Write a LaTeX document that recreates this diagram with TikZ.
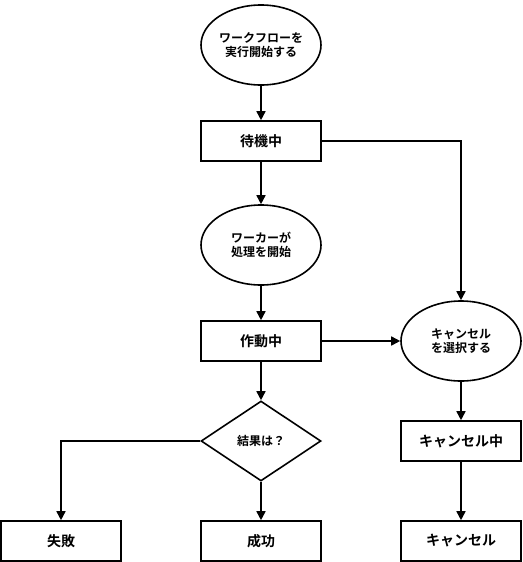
\documentclass[tikz,border=0pt]{standalone}
\usepackage{fontspec}
\setmainfont{Noto Sans CJK JP}[BoldFont={Noto Sans CJK JP Bold}]
\usetikzlibrary{shapes.geometric,arrows.meta}
\begin{document}
\begin{tikzpicture}[x=1pt,y=-1pt,
  box/.style={draw,line width=1.6pt,minimum width=120pt,minimum height=40pt,inner sep=0pt,font=\fontsize{14}{16}\selectfont\bfseries},
  oval/.style={draw,ellipse,line width=1.6pt,minimum width=120pt,minimum height=80pt,inner sep=0pt,align=center,font=\fontsize{12}{14}\selectfont\bfseries},
  dia/.style={draw,diamond,line width=1.6pt,minimum width=120pt,minimum height=80pt,inner sep=0pt,aspect=1.5,font=\fontsize{12}{14}\selectfont\bfseries},
  arr/.style={draw,line width=1.6pt,-{Triangle[length=9pt,width=9pt]}}]
\useasboundingbox (0,0) rectangle (522,562);
\node[oval] (start) at (261,45) {ワークフローを\\実行開始する};
\node[box] (wait) at (261,141) {待機中};
\node[oval] (worker) at (261,245) {ワーカーが\\処理を開始};
\node[box] (run) at (261,341) {作動中};
\node[dia] (res) at (261,441) {結果は？};
\node[box] (fail) at (61,541) {失敗};
\node[box] (ok) at (261,541) {成功};
\node[oval] (csel) at (461,341) {キャンセル\\を選択する};
\node[box] (cing) at (461,441) {キャンセル中};
\node[box] (cdone) at (461,541) {キャンセル};
\draw[arr] (start) -- (wait);
\draw[arr] (wait) -- (worker);
\draw[arr] (worker) -- (run);
\draw[arr] (run) -- (res);
\draw[arr] (res) -- (ok);
\draw[arr] (res.west) -| (fail.north);
\draw[arr] (wait.east) -| (csel.north);
\draw[arr] (run.east) -- (csel.west);
\draw[arr] (csel) -- (cing);
\draw[arr] (cing) -- (cdone);
\end{tikzpicture}
\end{document}
